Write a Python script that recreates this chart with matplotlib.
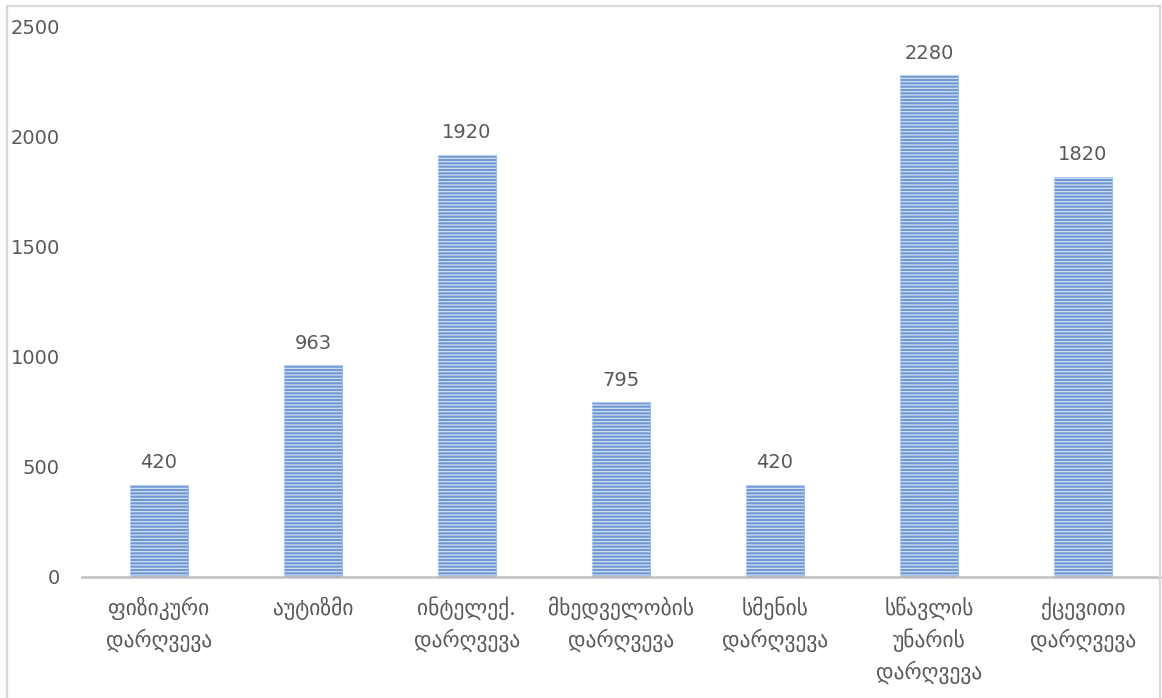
#!/usr/bin/env python3

import matplotlib as mpl
import matplotlib.pyplot as plt
from matplotlib.patches import Rectangle

categories = [
	"ფიზიკური\nდარღვევა",
	"აუტიზმი",
	"ინტელექ.\nდარღვევა",
	"მხედველობის\nდარღვევა",
	"სმენის\nდარღვევა",
	"სწავლის\nუნარის\nდარღვევა",
	"ქცევითი\nდარღვევა",
]
values = [420, 963, 1920, 795, 420, 2280, 1820]
yticks = [0, 500, 1000, 1500, 2000, 2500]

textColor = "#595959"


def setupPlots():
	mpl.rcParams["font.family"] = ["DejaVu Sans"]
	mpl.rcParams["hatch.linewidth"] = 0.9
	mpl.rcParams["figure.dpi"] = 100
	mpl.rcParams["savefig.dpi"] = 100


setupPlots()
fig = plt.figure(figsize=(11.62, 6.98))
ax = fig.add_axes([82 / 1162, 121 / 698, 1078 / 1162, 550 / 698])

xs = list(range(len(values)))
ax.bar(xs, values, width=0.38, color="#6e98d4", edgecolor="#a2bfe7", linewidth=0.8, zorder=2)
# light horizontal stripes over the bars
ax.bar(xs, values, width=0.38, fill=False, edgecolor="#d2def2", linewidth=0, hatch="-----", zorder=3)

for x, v in zip(xs, values):
	ax.annotate(str(v), (x, v), xytext=(0, 9), textcoords="offset points",
		ha="center", va="bottom", fontsize=14, color=textColor)

ax.set_xlim(-0.5, len(values) - 0.5)
ax.set_ylim(0, 2500)
ax.set_yticks(yticks)
ax.set_yticklabels([str(t) for t in yticks])
ax.set_xticks(xs)
ax.set_xticklabels(categories, linespacing=1.45)
ax.tick_params(axis="y", length=0, pad=16, labelsize=14, labelcolor=textColor)
ax.tick_params(axis="x", length=0, pad=14, labelsize=15.5, labelcolor=textColor)

for side in ["top", "right", "left"]:
	ax.spines[side].set_visible(False)
ax.spines["bottom"].set_color("#c0c0c0")
ax.spines["bottom"].set_linewidth(1.8)
ax.spines["bottom"].set_zorder(4)

# outer chart frame (bottom edge runs off the image)
fig.patches.append(Rectangle((7 / 1162, -0.05), 1153 / 1162, 1.05 - 6 / 698,
	transform=fig.transFigure, fill=False, edgecolor="#d9d9d9", linewidth=1.6))

fig.savefig("out.png")
